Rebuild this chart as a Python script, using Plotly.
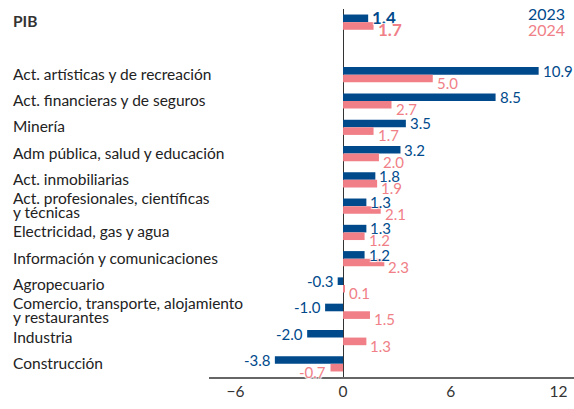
import plotly.graph_objects as go

sectors = [
    "Act. artísticas y de recreación",
    "Act. financieras y de seguros",
    "Minería",
    "Adm pública, salud y educación",
    "Act. inmobiliarias",
    "Act. profesionales, científicas<br>y técnicas",
    "Electricidad, gas y agua",
    "Información y comunicaciones",
    "Agropecuario",
    "Comercio, transporte, alojamiento<br>y restaurantes",
    "Industria",
    "Construcción",
]
pib_label = "PIB"
pib_2023 = 1.4
pib_2024 = 1.7
vals_2023 = [10.9, 8.5, 3.5, 3.2, 1.8, 1.3, 1.3, 1.2, -0.3, -1.0, -2.0, -3.8]
vals_2024 = [5.0, 2.7, 1.7, 2.0, 1.9, 2.1, 1.2, 2.3, 0.1, 1.5, 1.3, -0.7]
x_ticks = [-6, 0, 6, 12]

BLUE = "#004a8c"
PINK = "#f07f87"
FONT = "Lato"
HALO = "1px 1px 1px white, -1px -1px 1px white, 1px -1px 1px white, -1px 1px 1px white"

cats = [pib_label] + sectors
spacer = "\u200b"
order = [pib_label, spacer] + sectors

xs_2023 = [pib_2023] + vals_2023
xs_2024 = [pib_2024] + vals_2024


def fmt(v, bold):
    s = f"{v:.1f}"
    return f"<b>{s}</b>" if bold else s


fig = go.Figure()
fig.add_trace(go.Bar(
    name="2023", y=cats, x=xs_2023, orientation="h",
    marker=dict(color=BLUE, line=dict(width=0)), hoverinfo="skip",
))
fig.add_trace(go.Bar(
    name="2024", y=cats, x=xs_2024, orientation="h",
    marker=dict(color=PINK, line=dict(width=0)), hoverinfo="skip",
))

annotations = []
# value labels
for series, color, yshift in ((xs_2023, BLUE, 4), (xs_2024, PINK, -8)):
    for c, v in zip(cats, series):
        is_pib = c == pib_label
        annotations.append(dict(
            x=v, y=c, xref="x", yref="y",
            text=fmt(v, is_pib), showarrow=False,
            xanchor="left" if v >= 0 else "right",
            xshift=2 if v >= 0 else -2, yshift=yshift + (1 if is_pib else 0),
            yanchor="middle",
            font=dict(family=FONT, size=17 if is_pib else 15, color=color, shadow=HALO),
        ))

# category labels
LINE_H = 14
for c in cats:
    is_pib = c == pib_label
    lines = c.split("<br>")
    n = len(lines)
    for i, ln in enumerate(lines):
        annotations.append(dict(
            xref="paper", x=-0.5425, yref="y", y=c,
            yshift=((n - 1) / 2 - i) * LINE_H + 1,
            text=f"<b>{ln}</b>" if is_pib else ln,
            showarrow=False, xanchor="left", yanchor="middle", align="left",
            font=dict(family=FONT, size=15.5, color="#333333" if is_pib else "#222222"),
        ))
annotations.append(dict(xref="paper", x=0.98, yref="paper", y=0.987, text="2023",
                        showarrow=False, xanchor="right", yanchor="middle",
                        font=dict(family=FONT, size=16, color=BLUE)))
annotations.append(dict(xref="paper", x=0.98, yref="paper", y=0.943, text="2024",
                        showarrow=False, xanchor="right", yanchor="middle",
                        font=dict(family=FONT, size=16, color=PINK)))

fig.update_layout(
    width=574, height=409,
    margin=dict(l=209, r=0, t=9, b=32),
    paper_bgcolor="white", plot_bgcolor="white",
    barmode="group", bargap=0.42, bargroupgap=0,
    showlegend=False,
    annotations=annotations,
    font=dict(family=FONT, color="#333333"),
)
fig.update_xaxes(
    range=[-7.47, 12.87], tickvals=x_ticks, showgrid=False,
    zeroline=True, zerolinecolor="#333333", zerolinewidth=1,
    showline=True, linecolor="#666666", linewidth=1.5,
    ticks="", tickfont=dict(family=FONT, size=15.5, color="#333333"),
    fixedrange=True,
)
fig.update_yaxes(
    type="category", categoryorder="array", categoryarray=order,
    range=[len(order) - 0.5, -0.5], showticklabels=False, showgrid=False,
    zeroline=False, showline=False, ticks="", fixedrange=True,
)

fig.write_html(
    "out.html",
    config={"displayModeBar": False},
    post_script="document.body.style.margin='0';document.body.style.overflow='hidden';",
)
